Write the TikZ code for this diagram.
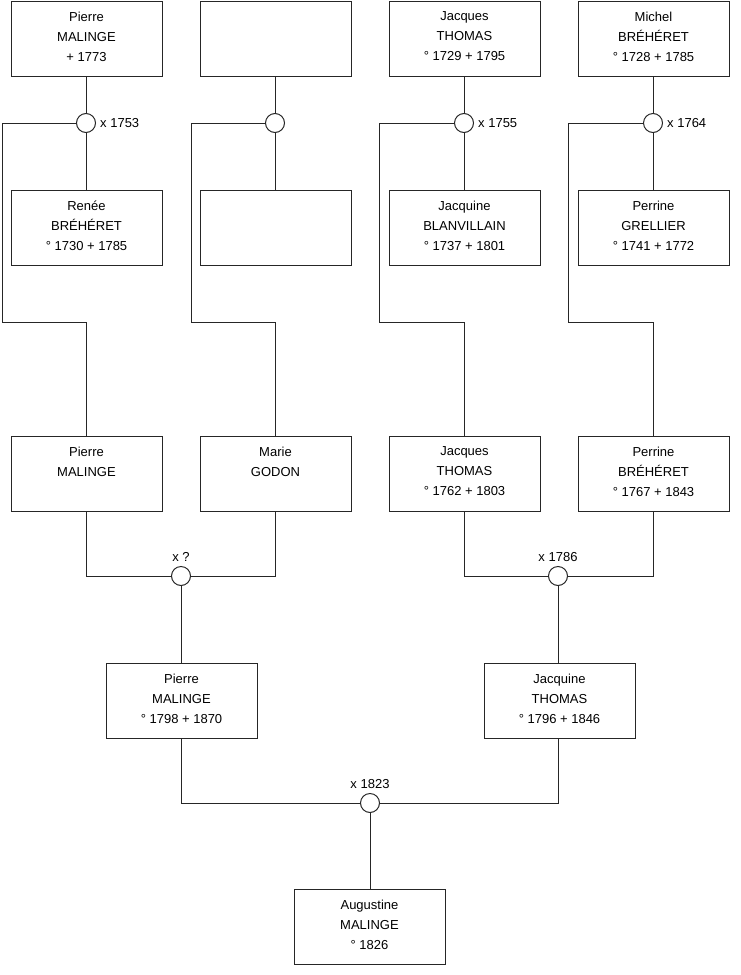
\documentclass[tikz,border=0pt]{standalone}
\usepackage{fontspec}
\setmainfont{Liberation Sans}
\begin{document}
\begin{tikzpicture}[x=1pt,y=-1pt,
  pbox/.style={draw=black!85,line width=1pt,fill=white,minimum width=151pt,minimum height=75pt,inner sep=0pt,anchor=north west},
  ptxt/.style={anchor=north,inner sep=0pt,align=center,font=\fontsize{13}{20}\selectfont,yshift=-11pt},
  mring/.style={circle,draw=black!85,line width=1pt,fill=white,minimum size=19pt,inner sep=0pt},
  mlab/.style={inner sep=0pt,font=\fontsize{13}{16}\selectfont},
  link/.style={draw=black!85,line width=1pt}]
\useasboundingbox (0,0) rectangle (740,975);
% row 1
\node[pbox] (a1) at (10.5,0.5) {};
\node[pbox] (a2) at (199.5,0.5) {};
\node[pbox] (a3) at (388.5,0.5) {};
\node[pbox] (a4) at (577.5,0.5) {};
\node[ptxt] (ta1) at (a1.north) {Pierre\\MALINGE\\+ 1773};
\node[ptxt] (ta3) at (a3.north) {Jacques\\THOMAS\\° 1729 + 1795};
\node[ptxt] (ta4) at (a4.north) {Michel\\BRÉHÉRET\\° 1728 + 1785};
% row 2
\node[pbox] (b1) at (10.5,189.5) {};
\node[pbox] (b2) at (199.5,189.5) {};
\node[pbox] (b3) at (388.5,189.5) {};
\node[pbox] (b4) at (577.5,189.5) {};
\node[ptxt] (tb1) at (b1.north) {Renée\\BRÉHÉRET\\° 1730 + 1785};
\node[ptxt] (tb3) at (b3.north) {Jacquine\\BLANVILLAIN\\° 1737 + 1801};
\node[ptxt] (tb4) at (b4.north) {Perrine\\GRELLIER\\° 1741 + 1772};
% row 3
\node[pbox] (m1) at (10.5,435.5) {};
\node[pbox] (m2) at (199.5,435.5) {};
\node[pbox] (m3) at (388.5,435.5) {};
\node[pbox] (m4) at (577.5,435.5) {};
\node[ptxt] (tm1) at (m1.north) {Pierre\\MALINGE};
\node[ptxt] (tm2) at (m2.north) {Marie\\GODON};
\node[ptxt] (tm3) at (m3.north) {Jacques\\THOMAS\\° 1762 + 1803};
\node[ptxt] (tm4) at (m4.north) {Perrine\\BRÉHÉRET\\° 1767 + 1843};
% row 4
\node[pbox] (n1) at (105.5,662.5) {};
\node[pbox] (n2) at (483.5,662.5) {};
\node[ptxt] (tn1) at (n1.north) {Pierre\\MALINGE\\° 1798 + 1870};
\node[ptxt] (tn2) at (n2.north) {Jacquine\\THOMAS\\° 1796 + 1846};
% row 5
\node[pbox] (z) at (293.5,888.5) {};
\node[ptxt] (tz) at (z.north) {Augustine\\MALINGE\\° 1826};
% marriage rings
\node[mring] (c1) at (86,123) {};
\node[mring] (c2) at (275,123) {};
\node[mring] (c3) at (464,123) {};
\node[mring] (c4) at (653,123) {};
\node[mring] (c5) at (181,576) {};
\node[mring] (c6) at (558,576) {};
\node[mring] (c7) at (370,803) {};
\node[mlab,anchor=west] (l1) at ([xshift=4pt]c1.east) {x 1753};
\node[mlab,anchor=west] (l3) at ([xshift=4pt]c3.east) {x 1755};
\node[mlab,anchor=west] (l4) at ([xshift=4pt]c4.east) {x 1764};
\node[mlab,anchor=south] (l5) at ([yshift=4pt]c5.north) {x ?};
\node[mlab,anchor=south] (l6) at ([yshift=4pt]c6.north) {x 1786};
\node[mlab,anchor=south] (l7) at ([yshift=4pt]c7.north) {x 1823};
% bend points
\coordinate (k1a) at (2,123);  \coordinate (k1b) at (2,322);
\coordinate (k2a) at (191,123); \coordinate (k2b) at (191,322);
\coordinate (k3a) at (379,123); \coordinate (k3b) at (379,322);
\coordinate (k4a) at (568,123); \coordinate (k4b) at (568,322);
% connectors
\foreach \i in {1,2,3,4}{
  \draw[link] (a\i.south -| c\i) -- (c\i);
  \draw[link] (c\i) -- (b\i.north -| c\i);
  \draw[link] (c\i) -- (k\i a) -- (k\i b) -| (m\i.north -| c\i);
}
\draw[link] (m1.south -| c1) |- (c5);
\draw[link] (m2.south -| c2) |- (c5);
\draw[link] (m3.south -| c3) |- (c6);
\draw[link] (m4.south -| c4) |- (c6);
\draw[link] (c5) -- (n1.north -| c5);
\draw[link] (c6) -- (n2.north -| c6);
\draw[link] (n1.south -| c5) |- (c7);
\draw[link] (n2.south -| c6) |- (c7);
\draw[link] (c7) -- (z.north -| c7);
\end{tikzpicture}
\end{document}
